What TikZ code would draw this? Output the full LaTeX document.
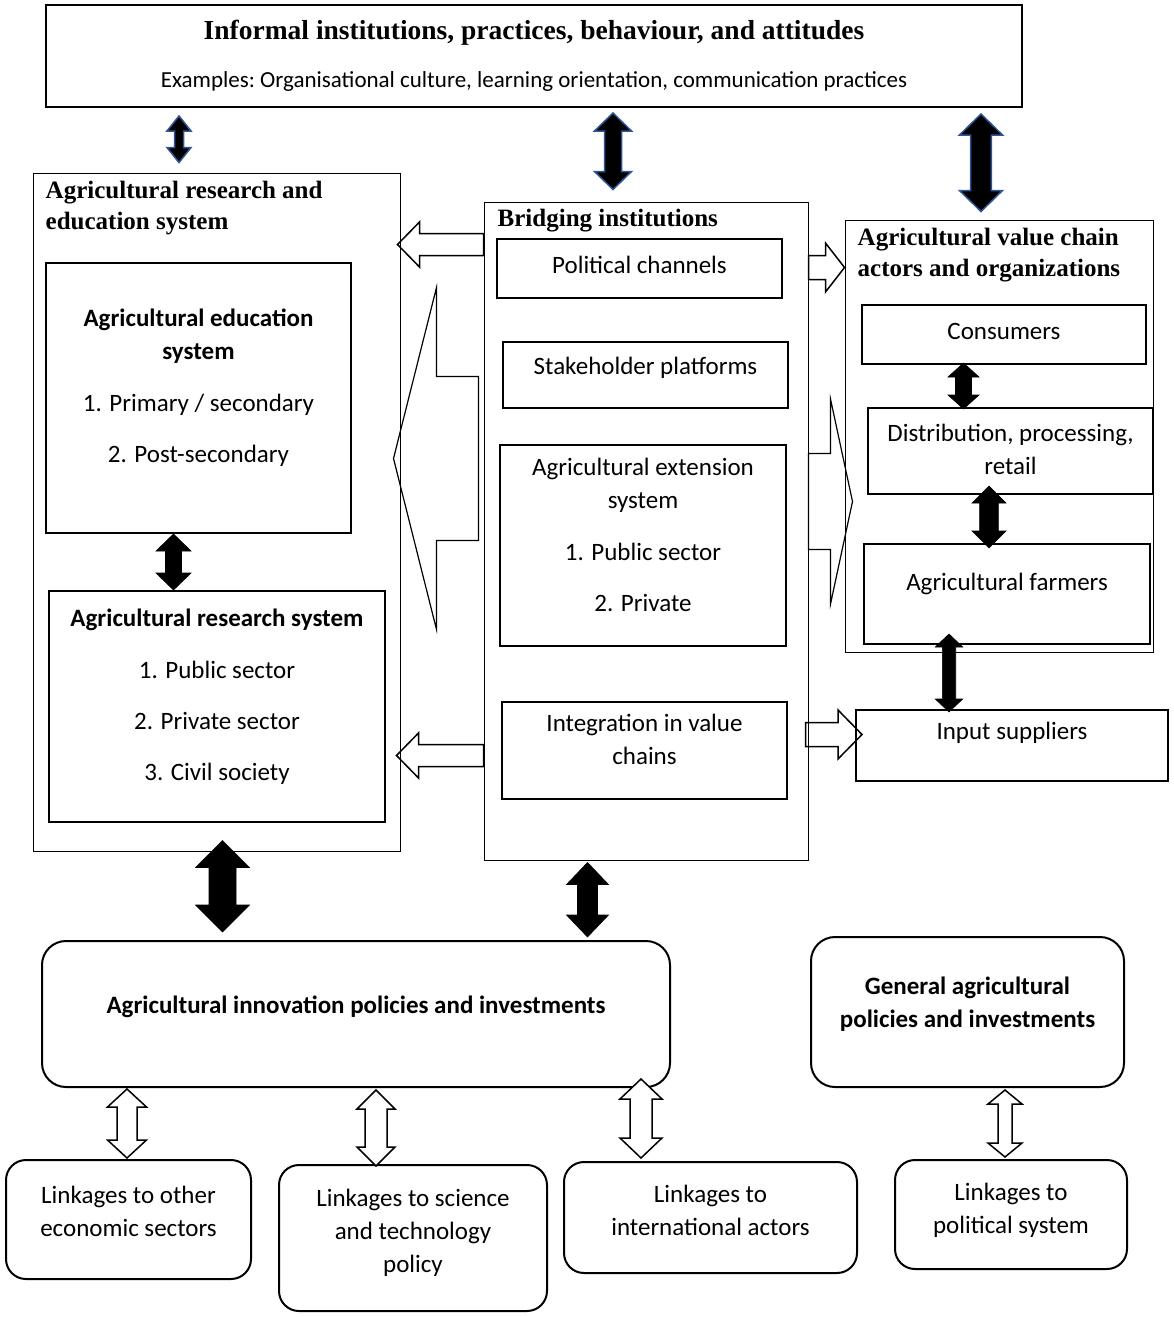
\documentclass[tikz,border=0pt]{standalone}
\usepackage{fontspec}
\setmainfont{Carlito}
\newfontfamily\headfont{Liberation Serif}
\usetikzlibrary{calc,positioning}

\definecolor{arrowblue}{RGB}{47,85,151}
\newcommand{\bsize}{\fontsize{25}{33}\selectfont}

\begin{document}
\begin{tikzpicture}[
  x=1pt, y=1pt,
  box/.style={draw, line width=2pt, align=center, font=\bsize, inner sep=0pt},
  outerbox/.style={draw, line width=1pt, inner sep=0pt},
  rbox/.style={draw, line width=2pt, rounded corners=24pt, align=center, font=\bsize, inner sep=0pt},
  headtext/.style={anchor=north west, align=left, inner sep=0pt,
                   font=\headfont\bfseries\fontsize{25}{31}\selectfont},
  solidarrow/.style={fill=black, draw=black, line width=0.6pt},
  bluearrow/.style={fill=black, draw=arrowblue, line width=1.5pt},
  openarrow/.style={draw=black, line width=1.5pt},
  thinarrow/.style={draw=black, line width=1.2pt},
  vdouble/.style args={#1/#2/#3}{to path={
    let \p1=(\tikztostart), \p2=(\tikztotarget) in
    (\x1,\y1) -- (\x1+#2,\y1-#3) -- (\x1+#1,\y1-#3) -- (\x1+#1,\y2+#3)
    -- (\x1+#2,\y2+#3) -- (\x1,\y2) -- (\x1-#2,\y2+#3) -- (\x1-#1,\y2+#3)
    -- (\x1-#1,\y1-#3) -- (\x1-#2,\y1-#3) -- cycle}},
  hblock/.style args={#1/#2/#3}{to path={
    let \p1=(\tikztostart), \p2=(\tikztotarget), \p3=($(\x2,\y1)!#3!(\x1,\y1)$) in
    (\x1,\y1+#1) -- (\x3,\y1+#1) -- (\x3,\y1+#2) -- (\x2,\y1)
    -- (\x3,\y1-#2) -- (\x3,\y1-#1) -- (\x1,\y1-#1) -- cycle}}
]
\useasboundingbox (0,0) rectangle (1174,-1317);

% top
\node[box, minimum width=976pt, minimum height=102pt] (infbox) at (534,-56)
  {{\headfont\bfseries\fontsize{27.5}{33}\selectfont Informal institutions, practices, behaviour, and attitudes}\\[15pt]
   {\frenchspacing\fontsize{23}{27}\selectfont Examples: Organisational culture, learning orientation, communication practices}};

% left column
\node[outerbox, minimum width=367pt, minimum height=678pt] (resedu) at (216.5,-512) {};
\node[headtext] (reshead) at ([xshift=13pt,yshift=-8pt]resedu.north west)
  {Agricultural research and\\education system};
\node[box, minimum width=305pt, minimum height=270pt, text depth=25pt] (edusys) at (198.5,-398)
  {\textbf{Agricultural education}\\\textbf{system}\\[19pt]1. Primary / secondary\\[18pt]2. Post-secondary};
\node[box, minimum width=336pt, minimum height=231pt, text depth=24pt,
      below=56pt of edusys, xshift=18.5pt] (ressys)
  {\textbf{Agricultural research system}\\[19pt]1. Public sector\\[18pt]2. Private sector\\[18pt]3. Civil society};

% middle column
\node[outerbox, minimum width=324pt, minimum height=658pt] (bridge) at (646,-531) {};
\node[headtext] (bridhead) at ([xshift=14pt,yshift=-7pt]bridge.north west) {Bridging institutions};
\node[box, minimum width=285pt, minimum height=59pt, text depth=8pt] (polch) at (639.5,-268.5) {Political channels};
\node[box, minimum width=285pt, minimum height=66pt, text depth=19pt,
      below=42pt of polch, xshift=6pt] (stake) {Stakeholder platforms};
\node[box, minimum width=286pt, minimum height=201pt, text depth=21pt,
      below=35pt of stake, xshift=-2.5pt] (ext)
  {Agricultural extension\\system\\[19pt]1. Public sector\\[18pt]2. Private};
\node[box, minimum width=285pt, minimum height=97pt, text depth=23pt,
      below=54pt of ext, xshift=1.5pt] (integ) {Integration in value\\chains};

% right column
\node[outerbox, minimum width=308pt, minimum height=432pt] (valch) at (999,-436) {};
\node[headtext] (valhead) at ([xshift=13pt,yshift=-8pt]valch.north west)
  {Agricultural value chain\\actors and organizations};
\node[box, minimum width=284pt, minimum height=59pt, text depth=6pt] (cons) at (1004,-334.5) {Consumers};
\node[box, minimum width=285pt, minimum height=86pt, text depth=4pt,
      below=42pt of cons, xshift=6.5pt] (distr) {Distribution, processing,\\retail};
\node[box, minimum width=286pt, minimum height=100pt, text depth=25pt,
      below=48pt of distr, xshift=-3.5pt] (farm) {Agricultural farmers};
\node[box, minimum width=312pt, minimum height=71pt, text depth=30pt,
      below=64pt of farm, xshift=5pt] (inputs) {Input suppliers};

% policies
\node[rbox, minimum width=628pt, minimum height=146pt, text depth=19pt] (innov) at (356,-1014)
  {\textbf{Agricultural innovation policies and investments}};
\node[rbox, minimum width=313pt, minimum height=150pt, text depth=20pt] (genpol) at (967.5,-1012)
  {\textbf{General agricultural}\\\textbf{policies and investments}};

% linkages
\node[rbox, rounded corners=20pt, minimum width=245pt, minimum height=119pt, text depth=16pt]
  (linkecon) at (128.5,-1219.5) {Linkages to other\\economic sectors};
\node[rbox, rounded corners=20pt, minimum width=268pt, minimum height=146pt, text depth=14pt]
  (linksci) at (413,-1238) {Linkages to science\\and technology\\policy};
\node[rbox, rounded corners=20pt, minimum width=293pt, minimum height=111pt, text depth=14pt]
  (linkint) at (710.5,-1217.5) {Linkages to\\international actors};
\node[rbox, rounded corners=20pt, minimum width=232pt, minimum height=109pt, text depth=13pt]
  (linkpol) at (1011,-1214.5) {Linkages to\\political system};

% block arrows
\draw[bluearrow, vdouble=4.5pt/12pt/15pt] ($(infbox.south west)+(134,-8)$) to ([yshift=10pt]resedu.north);
\draw[bluearrow, vdouble=8.5pt/18.5pt/18pt] ($(infbox.south west)+(568,-5)$) to ([yshift=12pt]bridge.north);
\draw[bluearrow, vdouble=10.3pt/21.5pt/21pt] ($(infbox.south west)+(936,-6)$) to ([yshift=8pt]valch.north);

\draw[solidarrow, vdouble=8pt/17.5pt/17pt] ($(edusys.south west)+(128.5,0)$) to (ressys.north);
\draw[solidarrow, vdouble=8pt/15.5pt/14pt] ($(cons.south west)+(102.5,2)$) to ([yshift=-2pt]distr.north);
\draw[solidarrow, vdouble=9.3pt/17pt/17pt] ($(distr.south west)+(122,9)$) to ([yshift=-5pt]farm.north);
\draw[solidarrow, vdouble=6.7pt/13.7pt/13pt] ($(farm.south west)+(86,11)$) to ([yshift=-3pt]inputs.north);
\draw[solidarrow, vdouble=13.5pt/27pt/27pt] ($(resedu.south west)+(190,11)$) to ([yshift=8pt]innov.north);
\draw[solidarrow, vdouble=10pt/21pt/22pt] ($(bridge.south west)+(104,-2)$) to ([yshift=3pt]innov.north);

\draw[openarrow, fill=white, vdouble=10pt/19.5pt/18pt] ($(innov.south west)+(86,-1)$) to ([yshift=1pt]linkecon.north);
\draw[openarrow, fill=white, vdouble=11pt/19pt/19pt] ($(innov.south west)+(335,-2)$) to ([yshift=-2pt]linksci.north);
\draw[openarrow, fill=white, vdouble=11pt/21pt/20pt] ($(innov.south west)+(600,9)$) to ([yshift=3pt]linkint.north);
\draw[openarrow, fill=white, vdouble=7pt/17pt/14pt] ($(genpol.south west)+(195,-2)$) to ([yshift=2pt]linkpol.north);

\draw[openarrow, hblock=11pt/22.5pt/22pt] ($(bridge.north west)+(0,-43)$) to ([xshift=-3pt]resedu.east);
\draw[openarrow, hblock=11pt/22.5pt/22pt] ($(bridge.south west)+(0,105)$) to ([xshift=-4pt]resedu.east);
\draw[thinarrow, hblock=82pt/171pt/43pt] ($(bridge.north west)+(-5,-257)$) to ([xshift=-7pt]resedu.east);
\draw[openarrow, hblock=12pt/24.5pt/19pt] ($(bridge.north east)+(0,-66)$) to (valch.west);
\draw[thinarrow, hblock=48pt/102.5pt/22pt] ($(bridge.north east)+(0,-300)$) to ([xshift=8pt]valch.west);
\draw[openarrow, hblock=12pt/24.5pt/24pt] ($(bridge.north east)+(-3,-533)$) to ([xshift=7pt]inputs.west);

\end{tikzpicture}
\end{document}
